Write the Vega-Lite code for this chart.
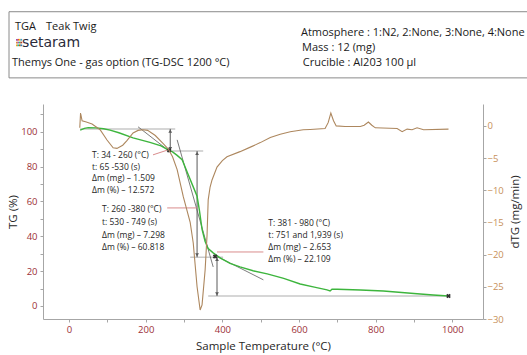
{
  "$schema": "https://vega.github.io/schema/vega-lite/v6.json",
  "width": 440,
  "height": 215,
  "autosize": {"type": "none"},
  "padding": {"left": 43, "top": 104, "right": 44, "bottom": 36},
  "background": "white",
  "config": {
    "view": {"stroke": null},
    "font": "Open Sans",
    "axis": {
      "domainColor": "#a6a6a6",
      "tickColor": "#a6a6a6",
      "tickSize": 3,
      "grid": false,
      "labelFontSize": 9.5,
      "titleFontSize": 11.5,
      "titleFontWeight": "normal",
      "titleColor": "#262626",
      "labelFont": "Open Sans",
      "titleFont": "Open Sans"
    }
  },
  "datasets": {
    "tg": [
      {"T": 29, "TG": 101}, {"T": 40, "TG": 102}, {"T": 50, "TG": 102.4}, {"T": 70, "TG": 102.3},
      {"T": 90, "TG": 101.8}, {"T": 107, "TG": 101}, {"T": 130, "TG": 99.5}, {"T": 167, "TG": 96.5},
      {"T": 211, "TG": 94}, {"T": 240, "TG": 92}, {"T": 256, "TG": 90}, {"T": 270, "TG": 88.5},
      {"T": 282, "TG": 86.5}, {"T": 295, "TG": 84}, {"T": 311, "TG": 75.3}, {"T": 324, "TG": 68.4},
      {"T": 334, "TG": 63}, {"T": 340, "TG": 55}, {"T": 347, "TG": 44}, {"T": 355, "TG": 37},
      {"T": 363, "TG": 33}, {"T": 376, "TG": 30.5}, {"T": 394, "TG": 27.6}, {"T": 420, "TG": 24.5},
      {"T": 446, "TG": 22.4}, {"T": 480, "TG": 20.2}, {"T": 517, "TG": 18.4}, {"T": 560, "TG": 15.8},
      {"T": 603, "TG": 12.6}, {"T": 640, "TG": 10.8}, {"T": 673, "TG": 9.2}, {"T": 681, "TG": 8.6},
      {"T": 686, "TG": 9.6}, {"T": 700, "TG": 9.6}, {"T": 760, "TG": 9.2}, {"T": 820, "TG": 8.6},
      {"T": 860, "TG": 7.9}, {"T": 908, "TG": 7}, {"T": 950, "TG": 6.3}, {"T": 990, "TG": 5.7}
    ],
    "dtg": [
      {"T": 28, "dTG": -0.3}, {"T": 30, "dTG": 2.0}, {"T": 34, "dTG": 0.8}, {"T": 45, "dTG": 0.6},
      {"T": 60, "dTG": 0.3}, {"T": 81, "dTG": -0.6}, {"T": 99, "dTG": -2.2}, {"T": 115, "dTG": -3.4},
      {"T": 125, "dTG": -3.5}, {"T": 140, "dTG": -3.0}, {"T": 151, "dTG": -2.3}, {"T": 167, "dTG": -1.1},
      {"T": 180, "dTG": -0.7}, {"T": 193, "dTG": -0.6}, {"T": 205, "dTG": -0.7}, {"T": 225, "dTG": -1.5},
      {"T": 245, "dTG": -2.7}, {"T": 259, "dTG": -3.6}, {"T": 270, "dTG": -4.8}, {"T": 282, "dTG": -6.8},
      {"T": 298, "dTG": -11}, {"T": 316, "dTG": -15}, {"T": 324, "dTG": -18.2}, {"T": 334, "dTG": -25},
      {"T": 342, "dTG": -28.6}, {"T": 347, "dTG": -27.8}, {"T": 355, "dTG": -22.4}, {"T": 360, "dTG": -17},
      {"T": 363, "dTG": -11.5}, {"T": 368, "dTG": -9.5}, {"T": 373, "dTG": -8.4}, {"T": 386, "dTG": -6.4},
      {"T": 400, "dTG": -5.4}, {"T": 412, "dTG": -4.8}, {"T": 446, "dTG": -4}, {"T": 473, "dTG": -3.3},
      {"T": 499, "dTG": -2.6}, {"T": 525, "dTG": -1.8}, {"T": 551, "dTG": -1.3}, {"T": 577, "dTG": -0.9},
      {"T": 611, "dTG": -0.6}, {"T": 629, "dTG": -0.55}, {"T": 668, "dTG": -0.4}, {"T": 676, "dTG": 0.5},
      {"T": 683, "dTG": 2.0}, {"T": 690, "dTG": 0.8}, {"T": 697, "dTG": 0}, {"T": 720, "dTG": -0.1},
      {"T": 760, "dTG": -0.1}, {"T": 770, "dTG": 0.1}, {"T": 781, "dTG": 0.6}, {"T": 790, "dTG": 0.1},
      {"T": 799, "dTG": -0.3}, {"T": 856, "dTG": -0.4}, {"T": 869, "dTG": -0.9}, {"T": 882, "dTG": -0.5},
      {"T": 895, "dTG": -0.6}, {"T": 908, "dTG": -0.3}, {"T": 925, "dTG": -0.6}, {"T": 990, "dTG": -0.5}
    ],
    "hlines": [
      {"T": 29, "TG": 101.7, "T2": 277, "TG2": 101.7},
      {"T": 259, "TG": 89, "T2": 350, "TG2": 89},
      {"T": 316, "TG": 28, "T2": 402, "TG2": 28},
      {"T": 363, "TG": 5.7, "T2": 990, "TG2": 5.7}
    ],
    "tangents": [
      {"T": 180, "TG": 102.9, "T2": 264, "TG2": 88.5},
      {"T": 282, "TG": 95.4, "T2": 376, "TG2": 22.4},
      {"T": 381, "TG": 29, "T2": 507, "TG2": 15}
    ],
    "arrows": [
      {"T": 264, "TG": 101.7, "T2": 264, "TG2": 89},
      {"T": 334, "TG": 89, "T2": 334, "TG2": 28},
      {"T": 386, "TG": 28, "T2": 386, "TG2": 5.7}
    ],
    "heads_up": [{"T": 264, "TG": 100.4}, {"T": 334, "TG": 87.7}, {"T": 386, "TG": 26.7}],
    "heads_down": [{"T": 264, "TG": 90.3}, {"T": 334, "TG": 29.3}, {"T": 386, "TG": 7}],
    "leaders": [
      {"T": 219, "TG": 86.8, "T2": 259, "TG2": 89.7},
      {"T": 256, "TG": 56.3, "T2": 334, "TG2": 56.3},
      {"T": 386, "TG": 31, "T2": 507, "TG2": 31}
    ],
    "markers": [{"T": 261, "TG": 89.4}, {"T": 381, "TG": 28.4}, {"T": 990, "TG": 5.7}],
    "notes": [
      {"T": 60, "TG": 86.6, "label": "T: 34 - 260 (°C)"},
      {"T": 60, "TG": 80.0, "label": "t:  65 -530 (s)"},
      {"T": 60, "TG": 73.3, "label": "Δm (mg) – 1.509"},
      {"T": 60, "TG": 66.7, "label": "Δm (%) – 12.572"},
      {"T": 86, "TG": 55.4, "label": "T: 260 -380 (°C)"},
      {"T": 86, "TG": 48.2, "label": "t:  530 - 749 (s)"},
      {"T": 86, "TG": 41.0, "label": "Δm (mg) – 7.298"},
      {"T": 86, "TG": 33.8, "label": "Δm (%) – 60.818"},
      {"T": 520, "TG": 47.9, "label": "T: 381 - 980 (°C)"},
      {"T": 520, "TG": 41.0, "label": "t:  751 and 1,939 (s)"},
      {"T": 520, "TG": 34.1, "label": "Δm (mg) – 2.653"},
      {"T": 520, "TG": 27.2, "label": "Δm (%) – 22.109"}
    ],
    "box": [{"T": -156.7, "TG": 169, "T2": 1200, "TG2": 131}],
    "header": [
      {"T": -141, "TG": 160.3, "label": "TGA"},
      {"T": -60, "TG": 160.3, "label": "Teak Twig"},
      {"T": -148.8, "TG": 139.7, "label": "Themys One - gas option (TG-DSC 1200 °C)"},
      {"T": 605, "TG": 156.9, "label": "Atmosphere : 1:N2, 2:None, 3:None, 4:None"},
      {"T": 608, "TG": 148.3, "label": "Mass : 12 (mg)"},
      {"T": 610, "TG": 139.7, "label": "Crucible : Al203 100 µl"}
    ],
    "logo": [{"T": -122.5, "TG": 151.1, "label": "setaram"}],
    "dots": [
      {"T": -136, "TG": 152.9, "c": "a"}, {"T": -132.2, "TG": 152.9, "c": "b"}, {"T": -128.4, "TG": 152.9, "c": "c"}, {"T": -124.6, "TG": 152.9, "c": "d"},
      {"T": -136, "TG": 151.3, "c": "e"}, {"T": -132.2, "TG": 151.3, "c": "f"}, {"T": -128.4, "TG": 151.3, "c": "g"}, {"T": -124.6, "TG": 151.3, "c": "h"},
      {"T": -136, "TG": 149.7, "c": "i"}, {"T": -132.2, "TG": 149.7, "c": "j"}, {"T": -128.4, "TG": 149.7, "c": "k"}, {"T": -124.6, "TG": 149.7, "c": "l"}
    ]
  },
  "encoding": {
    "x": {
      "field": "T",
      "type": "quantitative",
      "scale": {"domain": [-68, 1080], "nice": false, "zero": false},
      "axis": {
        "title": "Sample Temperature (°C)",
        "values": [0, 100, 200, 300, 400, 500, 600, 700, 800, 900, 1000],
        "format": "d",
        "labelExpr": "datum.value % 200 == 0 ? datum.label : ''",
        "labelColor": "#9c3038",
        "labelPadding": 2,
        "titlePadding": 7
      }
    }
  },
  "layer": [
    {
      "encoding": {
        "y": {
          "field": "TG",
          "type": "quantitative",
          "scale": {"domain": [-7.5, 116], "nice": false, "zero": false},
          "axis": {
            "title": "TG (%)",
            "values": [0, 10, 20, 30, 40, 50, 60, 70, 80, 90, 100, 110],
            "labelExpr": "datum.value % 20 == 0 ? datum.label : ''",
            "labelColor": "#9c3038",
            "labelPadding": 3,
            "titlePadding": 2
          }
        }
      },
      "layer": [
        {
          "data": {"name": "box"},
          "mark": {"type": "rect", "fill": "white", "stroke": "#8a8a8a", "strokeWidth": 1, "clip": false},
          "encoding": {"x2": {"field": "T2"}, "y2": {"field": "TG2"}}
        },
        {
          "data": {"name": "header"},
          "mark": {"type": "text", "align": "left", "baseline": "middle", "fontSize": 11, "color": "#1a1a1a", "font": "Open Sans", "clip": false},
          "encoding": {"text": {"field": "label"}}
        },
        {
          "data": {"name": "logo"},
          "mark": {"type": "text", "align": "left", "baseline": "middle", "fontSize": 14, "fontWeight": "normal", "color": "#2a2a3a", "font": "DejaVu Sans", "clip": false},
          "encoding": {"text": {"field": "label"}}
        },
        {
          "data": {"name": "dots"},
          "mark": {"type": "square", "size": 3, "opacity": 1, "clip": false},
          "encoding": {
            "color": {
              "field": "c",
              "type": "nominal",
              "legend": null,
              "scale": {"range": ["#8e44ad", "#e74c3c", "#f1c40f", "#3498db", "#e67e22", "#9b59b6", "#2ecc71", "#c0392b", "#f39c12", "#1abc9c", "#d35400", "#2980b9"]}
            }
          }
        },
        {
          "data": {"name": "hlines"},
          "mark": {"type": "rule", "color": "#c9c9c9", "strokeWidth": 1.5},
          "encoding": {"x2": {"field": "T2"}, "y2": {"field": "TG2"}}
        },
        {
          "data": {"name": "tangents"},
          "mark": {"type": "rule", "color": "#5a5a5a", "strokeWidth": 0.8},
          "encoding": {"x2": {"field": "T2"}, "y2": {"field": "TG2"}}
        },
        {
          "data": {"name": "arrows"},
          "mark": {"type": "rule", "color": "#5a5a5a", "strokeWidth": 1},
          "encoding": {"x2": {"field": "T2"}, "y2": {"field": "TG2"}}
        },
        {
          "data": {"name": "heads_up"},
          "mark": {"type": "point", "shape": "triangle-up", "filled": true, "size": 14, "color": "#5a5a5a", "opacity": 1}
        },
        {
          "data": {"name": "heads_down"},
          "mark": {"type": "point", "shape": "triangle-down", "filled": true, "size": 14, "color": "#5a5a5a", "opacity": 1}
        },
        {
          "data": {"name": "leaders"},
          "mark": {"type": "rule", "color": "#d98c8c", "strokeWidth": 1},
          "encoding": {"x2": {"field": "T2"}, "y2": {"field": "TG2"}}
        },
        {
          "data": {"name": "tg"},
          "mark": {"type": "line", "color": "#3db53d", "strokeWidth": 1.4}
        },
        {
          "data": {"name": "markers"},
          "mark": {"type": "point", "shape": "cross", "angle": 45, "filled": true, "size": 22, "color": "#333333", "opacity": 1}
        },
        {
          "data": {"name": "notes"},
          "mark": {"type": "text", "align": "left", "baseline": "middle", "fontSize": 8.5, "color": "#262626", "font": "Open Sans"},
          "encoding": {"text": {"field": "label"}}
        }
      ]
    },
    {
      "data": {"name": "dtg"},
      "mark": {"type": "line", "color": "#ad875e", "strokeWidth": 1.1},
      "encoding": {
        "y": {
          "field": "dTG",
          "type": "quantitative",
          "scale": {"domain": [-30, 3.4], "nice": false, "zero": false},
          "axis": {
            "orient": "right",
            "title": "dTG (mg/min)",
            "titleAngle": 270,
            "titleBaseline": "top",
            "values": [0, -5, -10, -15, -20, -25, -30],
            "labelColor": "#c8905a",
            "labelPadding": 1,
            "titlePadding": 6
          }
        }
      }
    }
  ],
  "resolve": {"scale": {"y": "independent", "color": "independent"}}
}
